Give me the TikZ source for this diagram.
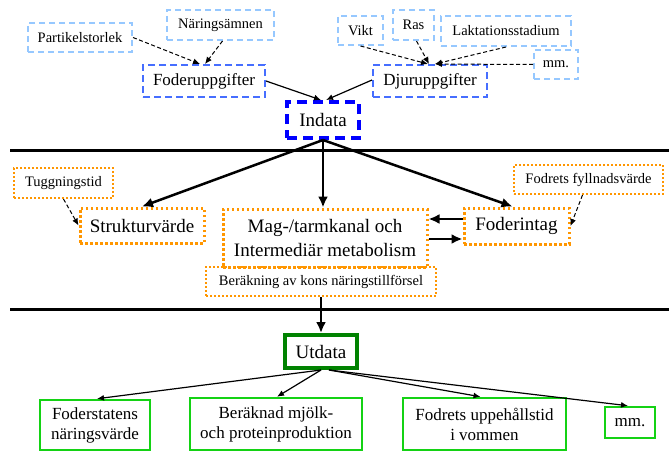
\documentclass[tikz,border=0pt]{standalone}
\usepackage{fontspec}
\setmainfont{Liberation Serif}
\usetikzlibrary{arrows.meta}
\definecolor{ljusbla}{RGB}{150,200,255}
\definecolor{mellanbla}{RGB}{70,110,255}
\definecolor{orangefarg}{RGB}{255,150,0}
\definecolor{ljusgron}{RGB}{20,210,20}
\definecolor{morkgron}{RGB}{0,130,0}
\def\liten{\fontsize{14.5}{16}\selectfont}
\def\mellan{\fontsize{17}{20}\selectfont}
\def\stor{\fontsize{19}{24}\selectfont}
\tikzset{
	ruta/.style={rectangle, inner sep=0pt, align=center, text=black},
	indatabox/.style={ruta, draw=ljusbla, line width=2pt, dash pattern=on 6pt off 4pt, font=\liten},
	uppgiftbox/.style={ruta, draw=mellanbla, line width=2pt, dash pattern=on 7pt off 4pt, font=\mellan},
	modellbox/.style={ruta, draw=orangefarg, line width=3pt, dash pattern=on 2.5pt off 2.5pt, font=\stor},
	modellsmall/.style={ruta, draw=orangefarg, line width=2pt, dash pattern=on 2pt off 2pt, font=\liten},
	utbox/.style={ruta, draw=ljusgron, line width=2.5pt, font=\mellan},
	streckpil/.style={line width=1pt, dash pattern=on 4pt off 2.5pt, -{Latex[length=7pt,width=6pt]}},
	tunnpil/.style={line width=1.2pt, -{Latex[length=7pt,width=6pt]}},
	tjockpil/.style={line width=2.5pt, -{Latex[length=11pt,width=10pt]}},
	linjal/.style={line width=3pt, black}
}

\begin{document}
\begin{tikzpicture}[x=1pt, y=-1pt]
			%%%%% START %%%%%
			\useasboundingbox (0, 0) rectangle (671, 452);
			
			\node[indatabox, minimum width=104, minimum height=29] (partikel) at (80, 37.5) {Partikelstorlek};
			\node[indatabox, minimum width=107, minimum height=30] (naring) at (220.5, 25) {Näringsämnen};
			\node[uppgiftbox, minimum width=122, minimum height=32] (foder) at (204, 81) {Foderuppgifter};
			
			\node[indatabox, minimum width=45, minimum height=29] (vikt) at (360.5, 30.5) {Vikt};
			\node[indatabox, minimum width=41, minimum height=30] (ras) at (413.5, 25) {Ras};
			\node[indatabox, minimum width=130, minimum height=30] (laktation) at (506, 31) {Laktationsstadium};
			\node[indatabox, minimum width=44, minimum height=29] (mmtopp) at (556, 64.5) {mm.};
			\node[uppgiftbox, minimum width=114, minimum height=32] (djur) at (430, 81) {Djuruppgifter};
			
			\node[ruta, draw=blue, line width=4pt, dash pattern=on 10pt off 6pt, font=\stor, minimum width=72, minimum height=36] (indata) at (323, 120) {Indata};
			
			\draw[streckpil] (partikel.east) -- ([xshift=-4pt]foder.north);
			\draw[streckpil] ([xshift=2pt]naring.south) -- ([xshift=1pt]foder.north);
			\draw[streckpil] (vikt.south) -- ([xshift=-2pt]djur.north);
			\draw[streckpil] ([xshift=3pt]ras.south) -- ([xshift=-1pt]djur.north);
			\draw[streckpil] (laktation.south) -- ([xshift=5pt]djur.north);
			\draw[streckpil] (mmtopp.west) -- ([xshift=5pt]djur.north);
			\draw[tunnpil] (foder.east) -- ([xshift=-2pt]indata.north);
			\draw[tunnpil] ([yshift=1pt]djur.west) -- ([xshift=3pt]indata.north);
			
			\draw[linjal] (10, 150) -- (669, 150);
			
			\node[modellsmall, minimum width=99, minimum height=30] (tugg) at (63.5, 183) {Tuggningstid};
			\node[modellbox, minimum width=124, minimum height=35] (struktur) at (142, 225.5) {Strukturvärde};
			\node[modellbox, minimum width=204, minimum height=58] (mag) at (325, 238) {Mag-/tarmkanal och\\Intermediär metabolism};
			\node[modellsmall, minimum width=230, minimum height=29] (berakning) at (321, 281.5) {Beräkning av kons näringstillförsel};
			\node[modellbox, minimum width=105, minimum height=36] (foderintag) at (516.5, 226) {Foderintag};
			\node[modellsmall, minimum width=149, minimum height=29] (fyllnad) at (588.5, 179.5) {Fodrets fyllnadsvärde};
			
			\draw[tjockpil] (indata.south) -- (struktur.north);
			\draw[tjockpil] (indata.south) -- (indata.south |- mag.north);
			\draw[tjockpil] (indata.south) -- ([xshift=-4pt]foderintag.north);
			\draw[streckpil] (tugg.south) -- (struktur.west);
			\draw[streckpil] ([xshift=-6pt]fyllnad.south) -- (foderintag.east);
			\coordinate (fiovre) at ([yshift=7pt]foderintag.west);
			\coordinate (magnedre) at ([yshift=-1pt]mag.east);
			\draw[tjockpil] (fiovre) -- (fiovre -| mag.east);
			\draw[tjockpil] (magnedre) -- (magnedre -| foderintag.west);
			
			\draw[linjal] (10, 309) -- (669, 309);
			
			\node[ruta, draw=morkgron, line width=4pt, font=\stor, minimum width=72, minimum height=33] (utdata) at (321, 351.5) {Utdata};
			\draw[tjockpil] (berakning.south) -- (utdata.north);
			
			\node[utbox, minimum width=110, minimum height=50] (foderstat) at (95, 425) {Foderstatens\\näringsvärde};
			\node[utbox, minimum width=172, minimum height=52] (mjolk) at (276, 424) {Beräknad mjölk-\\och proteinproduktion};
			\node[utbox, minimum width=163, minimum height=52] (uppehall) at (484.5, 424) {Fodrets uppehållstid\\i vommen};
			\node[utbox, minimum width=50, minimum height=31] (mmbotten) at (630, 422.5) {mm.};
			
			\draw[tunnpil] (utdata.south) -- ([xshift=2pt]foderstat.north);
			\draw[tunnpil] (utdata.south) -- ([xshift=1pt]mjolk.north);
			\draw[tunnpil] ([xshift=8pt]utdata.south) -- ([xshift=-4pt]uppehall.north);
			\draw[tunnpil] ([xshift=8pt]utdata.south) -- ([xshift=-2pt]mmbotten.north);
			
			%%%%% END %%%%%
		\end{tikzpicture}
\end{document}
